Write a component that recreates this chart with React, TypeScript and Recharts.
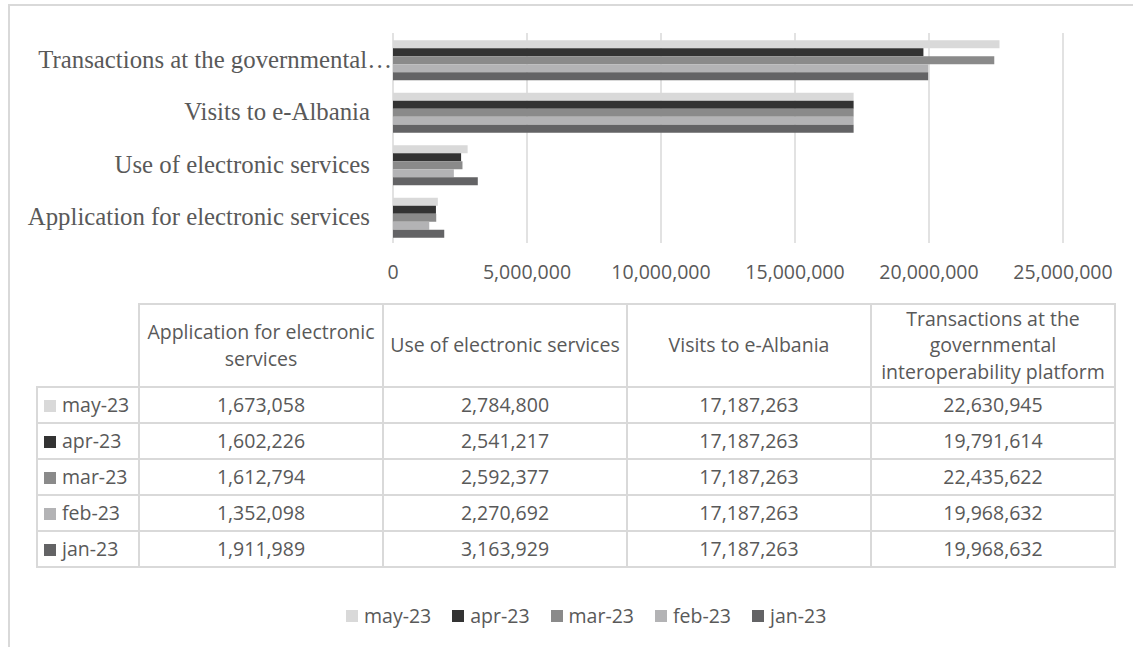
import { BarChart, Bar, XAxis, YAxis, CartesianGrid, Legend } from "recharts";

const categories = [
  "Application for electronic services",
  "Use of electronic services",
  "Visits to e-Albania",
  "Transactions at the governmental interoperability platform",
];
const months = ["may-23", "apr-23", "mar-23", "feb-23", "jan-23"];
const may23 = [1673058, 2784800, 17187263, 22630945];
const apr23 = [1602226, 2541217, 17187263, 19791614];
const mar23 = [1612794, 2592377, 17187263, 22435622];
const feb23 = [1352098, 2270692, 17187263, 19968632];
const jan23 = [1911989, 3163929, 17187263, 19968632];
const xTicks = [0, 5000000, 10000000, 15000000, 20000000, 25000000];

const series = [may23, apr23, mar23, feb23, jan23];
const colors = ["#d9d9d9", "#333333", "#8a8a8a", "#b3b3b5", "#636365"];
const grey = "#595959";
const line = "#d9d9d9";
const sans = "'Open Sans', sans-serif";

// chart reads top-down, table left-right, so flip the category order
const data = categories
  .map((name, i) => {
    const row: Record<string, string | number> = { name };
    months.forEach((m, k) => (row[m] = series[k][i]));
    return row;
  })
  .reverse();

const fmt = (v: number) => v.toLocaleString("en-US");

function CategoryTick(props: any) {
  const { x, y, payload } = props;
  const full: string = payload.value;
  const cut = full.length > 40;
  const text = cut ? full.slice(0, 32) + "…" : full;
  return (
    <text
      x={cut ? x + 22 : x}
      y={y}
      dy="0.35em"
      textAnchor="end"
      fill={grey}
      fontSize={24.8}
      fontFamily="'Liberation Serif', serif"
    >
      {text}
    </text>
  );
}

// legend keeps the series order (may first), not recharts' sorted payload
function LegendRow() {
  return (
    <div style={{ display: "flex", alignItems: "center", fontFamily: sans, fontSize: 19.5, color: grey }}>
      {months.map((m, k) => (
        <div key={m} style={{ display: "flex", alignItems: "center", marginRight: 21 }}>
          <span style={{ width: 12, height: 12, background: colors[k], marginRight: 6, display: "inline-block" }} />
          <span>{m}</span>
        </div>
      ))}
    </div>
  );
}

const cell: React.CSSProperties = {
  border: `2px solid ${line}`,
  padding: "0 3px",
  textAlign: "center",
  verticalAlign: "middle",
  fontWeight: "normal",
  lineHeight: "26.5px",
  fontSize: 19.5,
  color: grey,
  fontFamily: sans,
};

export default function App() {
  return (
    <div
      style={{
        position: "fixed",
        left: 0,
        top: 0,
        width: 1133,
        height: 647,
        overflow: "hidden",
        background: "#fff",
      }}
    >
      <div
        style={{
          position: "absolute",
          top: -25,
          left: 288,
          whiteSpace: "nowrap",
          fontFamily: "'Liberation Serif', serif",
          fontWeight: "bold",
          fontStyle: "italic",
          fontSize: 24,
          lineHeight: 1,
        }}
      >
        Figure 6: Applications to e-Albania between January-May 2023
      </div>
      <div
        style={{
          position: "absolute",
          left: 8,
          top: 4,
          width: 1200,
          height: 700,
          border: `2px solid ${line}`,
        }}
      />
      <div style={{ position: "absolute", left: 0, top: 0 }}>
        <BarChart
          width={1133}
          height={647}
          data={data}
          layout="vertical"
          margin={{ top: 33, right: 70, bottom: 364, left: 0 }}
          barCategoryGap="14%"
          barGap={0}
        >
          <CartesianGrid horizontal={false} stroke={line} strokeWidth={1.5} />
          <XAxis
            type="number"
            domain={[0, 25000000]}
            ticks={xTicks}
            interval={0}
            axisLine={false}
            tickLine={false}
            tickMargin={16}
            height={40}
            tickFormatter={fmt}
            tick={{ fill: grey, fontSize: 19.5, fontFamily: sans }}
          />
          <YAxis
            type="category"
            dataKey="name"
            width={393}
            axisLine={false}
            tickLine={false}
            tickMargin={17}
            interval={0}
            tick={<CategoryTick />}
          />
          <Legend
            layout="horizontal"
            verticalAlign="middle"
            align="center"
            wrapperStyle={{ top: 602, left: 346, width: 560, height: 26 }}
            content={<LegendRow />}
          />
          {months.map((m, k) => (
            <Bar key={m} dataKey={m} fill={colors[k]} isAnimationActive={false} />
          ))}
        </BarChart>
      </div>
      <table
        style={{
          position: "absolute",
          left: 36,
          top: 303,
          borderCollapse: "collapse",
          tableLayout: "fixed",
        }}
      >
        <colgroup>
          <col style={{ width: 102 }} />
          {categories.map((c) => (
            <col key={c} style={{ width: 244 }} />
          ))}
        </colgroup>
        <thead>
          <tr style={{ height: 83 }}>
            <th style={{ border: "none" }} />
            {categories.map((c) => (
              <th key={c} style={cell}>
                {c}
              </th>
            ))}
          </tr>
        </thead>
        <tbody>
          {months.map((m, k) => (
            <tr key={m} style={{ height: 36 }}>
              <td style={{ ...cell, textAlign: "left", paddingLeft: 6 }}>
                <span
                  style={{
                    display: "inline-block",
                    width: 12,
                    height: 12,
                    background: colors[k],
                    marginRight: 6,
                  }}
                />
                {m}
              </td>
              {series[k].map((v, i) => (
                <td key={i} style={cell}>
                  {fmt(v)}
                </td>
              ))}
            </tr>
          ))}
        </tbody>
      </table>
    </div>
  );
}
